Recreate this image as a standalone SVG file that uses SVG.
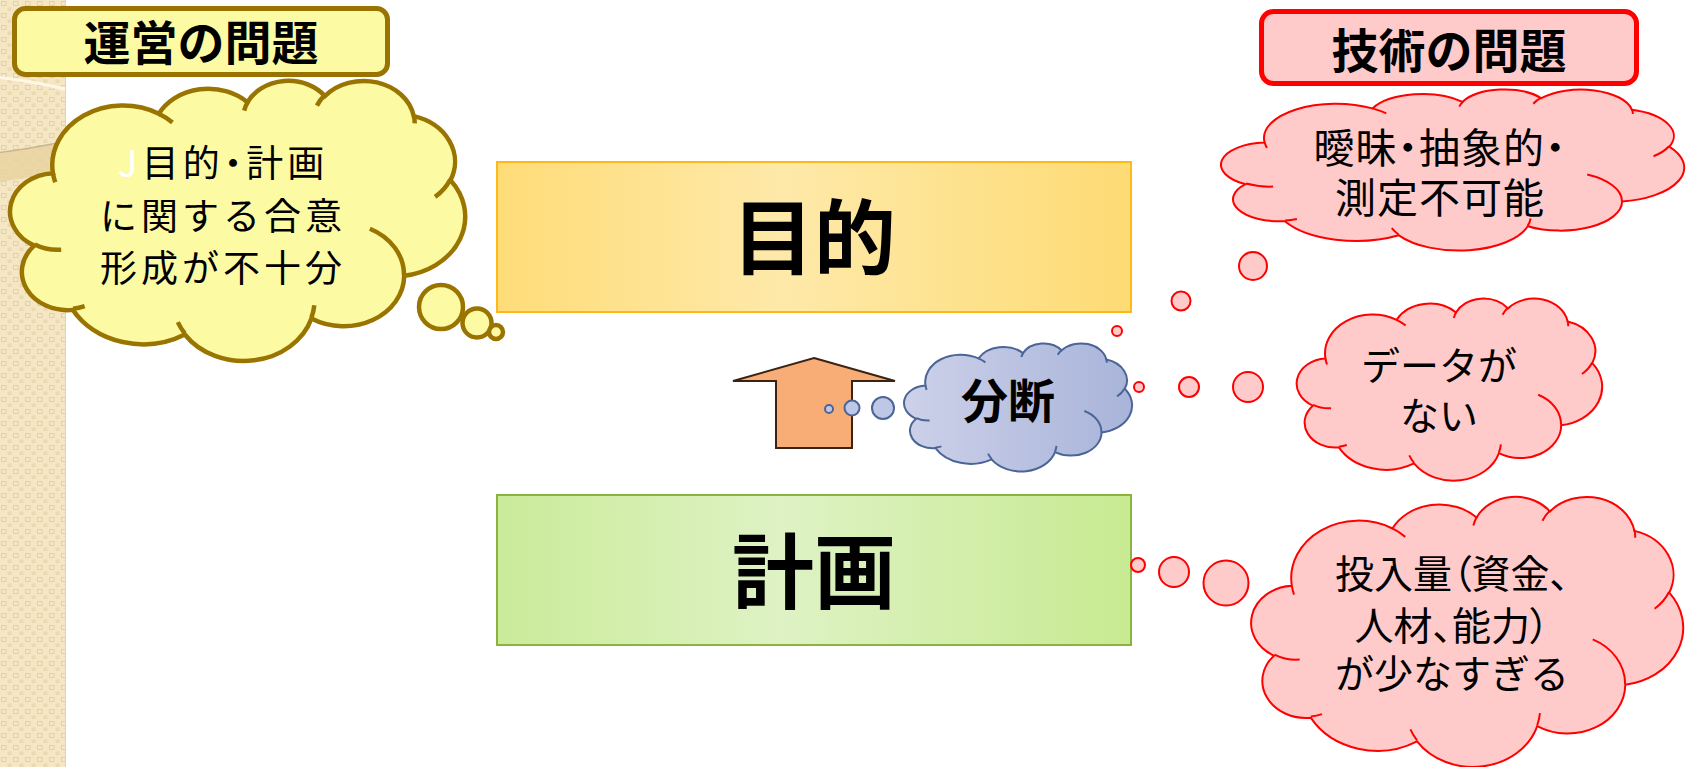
<svg xmlns="http://www.w3.org/2000/svg" xmlns:xlink="http://www.w3.org/1999/xlink" width="1690" height="767" viewBox="0 0 1690 767">
<style>
text{font-family:"Noto Sans CJK JP","Noto Sans",sans-serif;fill:#000;text-anchor:middle}
.title{font-size:47px;font-weight:bold}
.big{font-size:82px;font-weight:bold}
.ytxt{font-size:37px;letter-spacing:4px}
.rtxt{font-size:39px}
.vtxt{font-size:41px;letter-spacing:1px}
.palt{font-feature-settings:"palt"}
.ycloud{fill:#FCFBA4;stroke:#9A7400;stroke-width:4.5}
.rcloud{fill:#FFCACA;stroke:#FF0000;stroke-width:2}
.bcloud{fill:url(#gBlue);stroke:#4B6597;stroke-width:2}
.inner{fill:none}
.ybub{fill:#FCFBA4;stroke:#9A7400;stroke-width:4.5}
.rbub{fill:#FFCACA;stroke:#FF0000;stroke-width:2}
.bbub{fill:#BFC7E6;stroke:#4B6597;stroke-width:2}
</style>
<defs>
<pattern id="chk" width="12" height="12" patternUnits="userSpaceOnUse">
<rect width="12" height="12" fill="#F5E6C4"/>
<rect x="1.5" y="1.5" width="4.5" height="4" fill="none" stroke="#E4D0A4" stroke-width="1"/>
<rect x="7.5" y="7.5" width="4" height="3.5" fill="#EBD9B1"/>
</pattern>
<clipPath id="strip"><rect x="0" y="0" width="66" height="767"/></clipPath>
<linearGradient id="gGoal" x1="0" y1="0" x2="1" y2="0">
<stop offset="0" stop-color="#FEDC78"/><stop offset="0.45" stop-color="#FEE9A9"/><stop offset="1" stop-color="#FDDB74"/>
</linearGradient>
<linearGradient id="gPlan" x1="0" y1="0" x2="1" y2="0">
<stop offset="0" stop-color="#CBEB9A"/><stop offset="0.45" stop-color="#DEF2C4"/><stop offset="1" stop-color="#C8EA92"/>
</linearGradient>
<linearGradient id="gBlue" x1="0" y1="0" x2="1" y2="0">
<stop offset="0" stop-color="#CDD1E9"/><stop offset="1" stop-color="#A9B4DA"/>
</linearGradient>
<path id="cloudOuter" vector-effect="non-scaling-stroke" d="M9.03,33.26 A15.63,21.27 0 0 1 32.42,12.04 A12.35,16.82 0 0 1 51.98,7.94 A10.10,13.76 0 0 1 69.06,5.74 A11.24,15.27 0 0 1 88.70,12.91 A12.35,16.84 0 0 1 96.80,35.78 A15.68,21.34 0 0 1 86.58,69.91 A13.39,18.21 0 0 1 66.10,85.21 A15.63,21.33 0 0 1 38.15,90.89 A17.87,24.41 0 0 1 13.43,82.10 A10.09,13.70 0 0 1 4.89,59.14 A10.06,13.76 0 0 1 9.03,33.26 Z"/>
<path id="cloudInner" vector-effect="non-scaling-stroke" d="M10.86,60.60 A10.06,13.76 0 0 1 5.00,58.75 M16.04,80.78 A10.09,13.70 0 0 1 13.47,81.67 M38.14,90.49 A15.63,21.33 0 0 1 36.60,86.46 M66.73,80.44 A15.63,21.33 0 0 1 66.11,84.86 M79.00,53.13 A13.39,18.21 0 0 1 86.53,69.65 M96.75,35.54 A12.35,16.84 0 0 1 93.40,41.74 M88.71,12.56 A11.24,15.27 0 0 1 88.89,15.49 M67.31,9.15 A11.24,15.27 0 0 1 69.03,5.41 M51.25,10.93 A10.10,13.76 0 0 1 52.08,7.71 M32.41,12.02 A15.63,21.27 0 0 1 35.42,15.14 M9.55,36.55 A15.63,21.27 0 0 1 9.03,33.27"/>
</defs>

<rect x="0" y="0" width="1690" height="767" fill="#FFFFFF"/>

<g id="background-strip" clip-path="url(#strip)">
<rect x="0" y="0" width="66" height="767" fill="url(#chk)"/>
<path d="M-384,130 A247,45 0 0 0 110,130" fill="none" stroke="#E9D2A0" stroke-width="28" opacity="0.85"/>
<path d="M-384,115 A247,45 0 0 1 110,115" fill="none" stroke="#FFF7E6" stroke-width="3"/>
<path d="M-384,115 A247,45 0 0 0 110,115" fill="none" stroke="#C9B48E" stroke-width="1.5"/>
<line x1="65.5" y1="0" x2="65.5" y2="767" stroke="#E6D3AA" stroke-width="1"/>
</g>

<g id="ops-title">
<rect x="14.5" y="8.5" width="373" height="66" rx="11" fill="#FCFBA4" stroke="#9A7400" stroke-width="5"/>
<text class="title" x="201" y="60">運営の問題</text>
</g>

<g id="ops-cloud">
<circle class="ybub" cx="441" cy="307" r="22"/>
<circle class="ybub" cx="477" cy="323" r="14.5"/>
<circle class="ybub" cx="496" cy="332" r="7"/>
<use xlink:href="#cloudOuter" class="ycloud" transform="translate(12,80) scale(4.53,2.80)"/>
<use xlink:href="#cloudInner" class="ycloud inner" transform="translate(12,80) scale(4.53,2.80)"/>
<text class="ytxt"><tspan class="palt" x="223" y="177"><tspan fill="#FFFFFF">J</tspan>目的・計画</tspan><tspan x="223" y="230">に関する合意</tspan><tspan x="223" y="282">形成が不十分</tspan></text>
</g>

<g id="tech-title">
<rect x="1261.5" y="11.5" width="375" height="72" rx="12" fill="#FFCACA" stroke="#FF0000" stroke-width="5"/>
<text class="title" x="1449" y="68">技術の問題</text>
</g>

<g id="goal">
<rect x="497" y="162" width="634" height="150" fill="url(#gGoal)" stroke="#FDB918" stroke-width="2"/>
<text class="big" x="814" y="268">目的</text>
</g>

<g id="plan">
<rect x="497" y="495" width="634" height="150" fill="url(#gPlan)" stroke="#8AB43E" stroke-width="2"/>
<text class="big" x="814" y="602">計画</text>
</g>

<g id="connectors">
<polygon points="814,358 895,381 852,381 852,448 776,448 776,381 733,381" fill="#F9AD76" stroke="#3B2314" stroke-width="2" stroke-linejoin="miter"/>
</g>

<g id="split-cloud">
<circle class="bbub" cx="829" cy="409" r="4"/>
<circle class="bbub" cx="852" cy="408" r="7.5"/>
<circle class="bbub" cx="883" cy="408" r="11"/>
<use xlink:href="#cloudOuter" class="bcloud" transform="translate(905,343) scale(2.27,1.28)"/>
<use xlink:href="#cloudInner" class="bcloud inner" transform="translate(905,343) scale(2.27,1.28)"/>
<text x="1008" y="418" style="font-size:47px;font-weight:bold">分断</text>
</g>

<g id="tech-cloud-vague">
<circle class="rbub" cx="1117" cy="331" r="5"/>
<circle class="rbub" cx="1181" cy="301" r="9.5"/>
<circle class="rbub" cx="1253" cy="266" r="14"/>
<use xlink:href="#cloudOuter" class="rcloud" transform="translate(1223,89) scale(4.61,1.61)"/>
<use xlink:href="#cloudInner" class="rcloud inner" transform="translate(1223,89) scale(4.61,1.61)"/>
<text class="vtxt"><tspan class="palt" x="1440" y="163">曖昧・抽象的・</tspan><tspan x="1440" y="213">測定不可能</tspan></text>
</g>

<g id="tech-cloud-nodata">
<circle class="rbub" cx="1139" cy="387" r="5"/>
<circle class="rbub" cx="1189" cy="387" r="10"/>
<circle class="rbub" cx="1248" cy="387" r="15"/>
<use xlink:href="#cloudOuter" class="rcloud" transform="translate(1298,298) scale(3.04,1.82)"/>
<use xlink:href="#cloudInner" class="rcloud inner" transform="translate(1298,298) scale(3.04,1.82)"/>
<text class="rtxt"><tspan x="1439" y="380">データが</tspan><tspan x="1439" y="430">ない</tspan></text>
</g>

<g id="tech-cloud-input">
<circle class="rbub" cx="1138" cy="565" r="7"/>
<circle class="rbub" cx="1174" cy="572" r="15"/>
<circle class="rbub" cx="1226" cy="583" r="22.5"/>
<use xlink:href="#cloudOuter" class="rcloud" transform="translate(1253,496) scale(4.30,2.70)"/>
<use xlink:href="#cloudInner" class="rcloud inner" transform="translate(1253,496) scale(4.30,2.70)"/>
<text class="rtxt"><tspan class="palt" x="1452" y="588">投入量（資金、</tspan><tspan class="palt" x="1452" y="640">人材、能力）</tspan><tspan x="1452" y="688">が少なすぎる</tspan></text>
</g>
</svg>
